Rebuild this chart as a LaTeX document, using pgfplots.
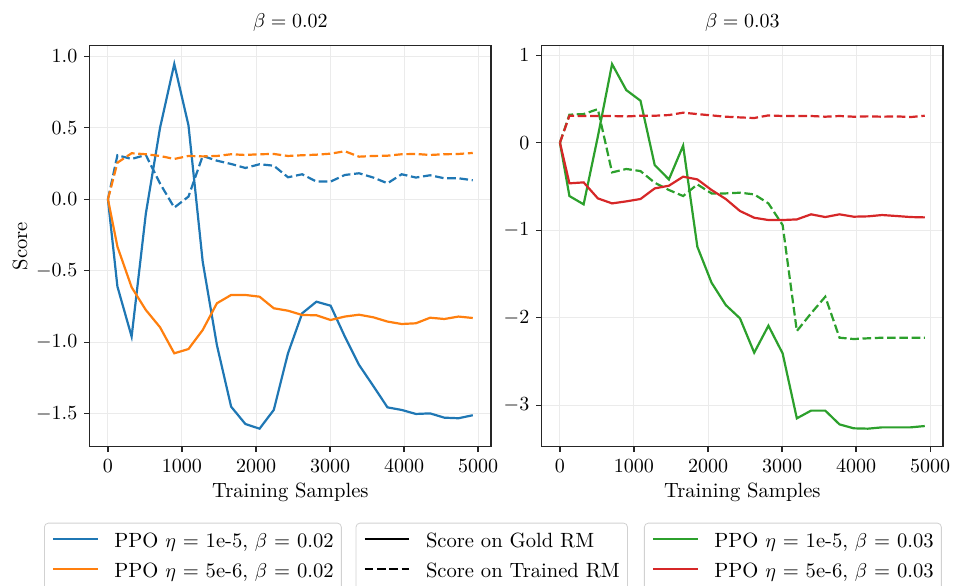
\documentclass[border=0pt]{standalone}
\usepackage{pgfplots}
\pgfplotsset{compat=1.18}
\usepackage{pgfplotstable}
\definecolor{tabblue}{HTML}{1F77B4}
\definecolor{taborange}{HTML}{FF7F0E}
\definecolor{tabgreen}{HTML}{2CA02C}
\definecolor{tabred}{HTML}{D62728}

\pgfplotstableread{
x bs bd os od
0 0 0 0 0
128 -0.61 0.308 -0.331 0.256
320 -0.96 0.282 -0.615 0.322
512 -0.10 0.31 -0.774 0.315
704 0.50 0.11 -0.895 0.303
896 0.946 -0.058 -1.077 0.282
1088 0.517 0.019 -1.047 0.303
1280 -0.436 0.303 -0.914 0.30
1472 -1.02 0.27 -0.727 0.303
1664 -1.45 0.247 -0.669 0.315
1856 -1.571 0.219 -0.669 0.31
2048 -1.604 0.245 -0.681 0.315
2240 -1.473 0.235 -0.762 0.317
2432 -1.077 0.154 -0.779 0.303
2624 -0.797 0.175 -0.809 0.308
2816 -0.716 0.124 -0.811 0.312
3008 -0.744 0.124 -0.844 0.319
3200 -0.96 0.17 -0.82 0.336
3392 -1.158 0.182 -0.807 0.298
3584 -1.305 0.152 -0.825 0.303
3776 -1.455 0.112 -0.855 0.305
3968 -1.473 0.175 -0.872 0.315
4160 -1.501 0.152 -0.867 0.317
4352 -1.497 0.168 -0.828 0.31
4544 -1.527 0.147 -0.837 0.315
4736 -1.531 0.147 -0.82 0.317
4928 -1.51 0.133 -0.83 0.324
}\leftdata

\pgfplotstableread{
x gs gd rs rd
0 0 0 0 0
128 -0.609 0.32 -0.464 0.308
320 -0.704 0.327 -0.453 0.305
512 0.07 0.384 -0.636 0.305
704 0.898 -0.339 -0.693 0.305
896 0.601 -0.30 -0.67 0.30
1088 0.48 -0.324 -0.643 0.308
1280 -0.255 -0.457 -0.522 0.308
1472 -0.419 -0.54 -0.491 0.316
1664 -0.034 -0.609 -0.388 0.343
1856 -1.188 -0.476 -0.419 0.327
2048 -1.599 -0.579 -0.54 0.312
2240 -1.854 -0.579 -0.643 0.297
2432 -2.006 -0.571 -0.78 0.289
2624 -2.398 -0.59 -0.857 0.282
2816 -2.09 -0.693 -0.883 0.312
3008 -2.406 -0.94 -0.883 0.305
3200 -3.148 -2.151 -0.876 0.305
3392 -3.06 -1.949 -0.818 0.305
3584 -3.06 -1.759 -0.849 0.297
3776 -3.217 -2.227 -0.818 0.305
3968 -3.262 -2.242 -0.845 0.297
4160 -3.266 -2.234 -0.841 0.301
4352 -3.251 -2.227 -0.826 0.297
4544 -3.251 -2.227 -0.837 0.301
4736 -3.251 -2.227 -0.849 0.293
4928 -3.236 -2.227 -0.853 0.308
}\rightdata

\pgfplotsset{
  mylegend/.style={
    legend cell align=left,
    legend image code/.code={\draw[##1] (0pt,1.7pt) -- (22.2pt,1.7pt);},
    legend style={draw=black!18, rounded corners=2pt, fill=white,
      font=\fontsize{10.3}{12.4}\selectfont,
      inner xsep=3.85pt, inner ysep=4.5pt,
      nodes={inner sep=0pt, text height=7.5pt, text depth=2.5pt},
      column sep=7.85pt, row sep=5pt},
  },
  base/.style={
    scale only axis, width=200.65pt, height=200.5pt, anchor=south west,
    font=\fontsize{10.3}{12.4}\selectfont,
    axis line style={black!85, line width=0.65pt},
    tick style={black!85, line width=0.6pt},
    major tick length=2.67pt, tick align=outside, tick pos=left,
    grid=major, major grid style={black!8, line width=0.5pt},
    xmin=-246.4, xmax=5174.4, xtick={0,1000,...,5000},
    scaled x ticks=false,
    xticklabel style={/pgf/number format/.cd, 1000 sep={}},
    xlabel={Training Samples},
    every axis x label/.style={at={(axis description cs:0.5,0)}, anchor=base, yshift=-25.3pt},
    every axis title/.style={at={(axis description cs:0.5,1)}, anchor=base, yshift=9.2pt},
    mylegend,
  },
  solidl/.style={line width=1.1pt},
  dashl/.style={line width=1.1pt, dash pattern=on 4.3pt off 1.85pt},
}

\begin{document}
\begin{tikzpicture}
\path[use as bounding box] (0,0) rectangle (476.5pt,292.5pt);

\begin{axis}[base, at={(44.85pt,69.15pt)},
  ymin=-1.73, ymax=1.074, ytick={-1.5,-1,-0.5,0,0.5,1},
  yticklabel style={/pgf/number format/.cd, fixed, fixed zerofill, precision=1},
  ylabel={Score},
  every axis y label/.style={at={(axis description cs:-0.1737,0.5)}, anchor=center, rotate=90},
  title={$\beta = 0.02$},
  legend style={at={(-0.11388,-0.18953)}, anchor=north west}]
\addplot[solidl, tabblue] table[x=x, y=bs] {\leftdata};
\addlegendentry{PPO $\eta$ = 1e-5, $\beta$ = 0.02}
\addplot[dashl, tabblue, forget plot] table[x=x, y=bd] {\leftdata};
\addplot[solidl, taborange] table[x=x, y=os] {\leftdata};
\addlegendentry{PPO $\eta$ = 5e-6, $\beta$ = 0.02}
\addplot[dashl, taborange, forget plot] table[x=x, y=od] {\leftdata};
\end{axis}

\begin{axis}[base, at={(270.85pt,69.15pt)},
  ymin=-3.472, ymax=1.108, ytick={-3,-2,-1,0,1},
  title={$\beta = 0.03$},
  legend style={at={(0.2549,-0.18953)}, anchor=north west}]
\addplot[solidl, tabgreen] table[x=x, y=gs] {\rightdata};
\addlegendentry{PPO $\eta$ = 1e-5, $\beta$ = 0.03}
\addplot[dashl, tabgreen, forget plot] table[x=x, y=gd] {\rightdata};
\addplot[solidl, tabred] table[x=x, y=rs] {\rightdata};
\addlegendentry{PPO $\eta$ = 5e-6, $\beta$ = 0.03}
\addplot[dashl, tabred, forget plot] table[x=x, y=rd] {\rightdata};
\end{axis}

\begin{axis}[mylegend, hide axis, scale only axis, width=10pt, height=10pt,
  at={(177.8pt,21.15pt)}, anchor=south west,
  xmin=0, xmax=1, ymin=0, ymax=1,
  legend style={at={(0,1)}, anchor=north west}]
\addlegendimage{solidl, black}
\addlegendentry{Score on Gold RM}
\addlegendimage{dashl, black}
\addlegendentry{Score on Trained RM}
\end{axis}
\end{tikzpicture}
\end{document}
